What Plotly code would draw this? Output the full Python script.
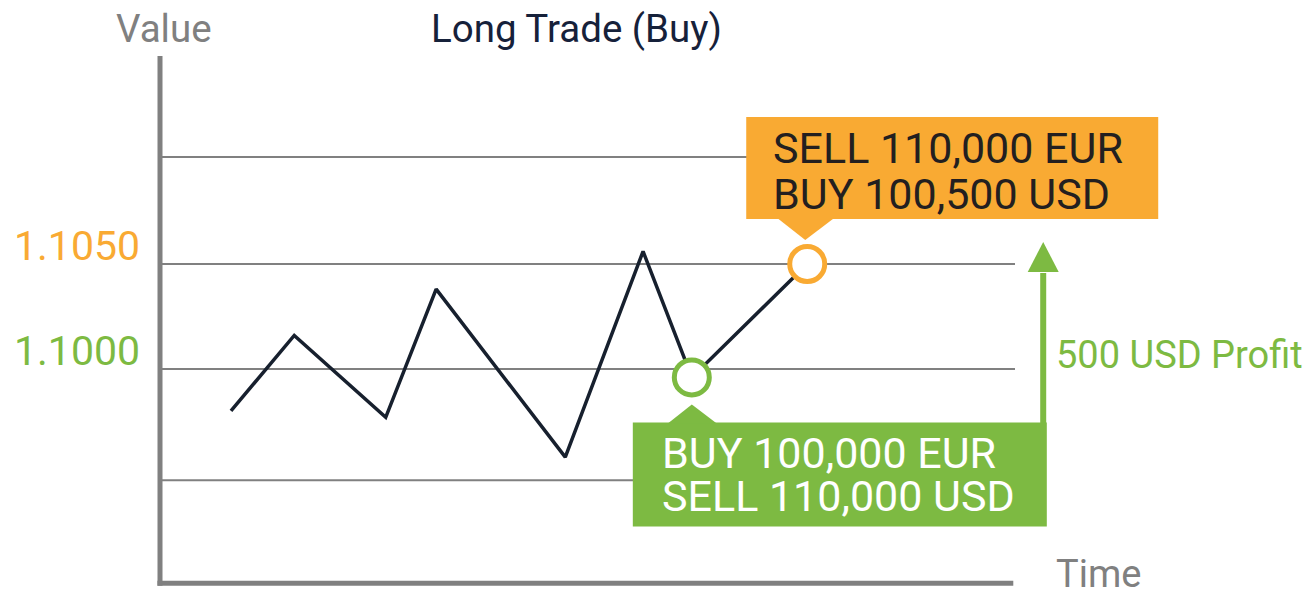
import plotly.graph_objects as go

# price path; time runs 0..100 along the drawn time axis
TIME = [8.3, 15.7, 26.4, 32.3, 47.4, 56.5, 62.2, 75.7]
PRICE = [1.0980, 1.1016, 1.0977, 1.1038, 1.0958, 1.1056, 1.0996, 1.1050]
BUY_IDX = 6
SELL_IDX = 7

GRID_LEVELS = [1.0947, 1.1000, 1.1050, 1.1101]
TICK_VALS = [1.1000, 1.1050]
TICK_TEXT = ["1.1000", "1.1050"]

BUY_LINES = ["BUY 100,000 EUR", "SELL 110,000 USD"]
SELL_LINES = ["SELL 110,000 EUR", "BUY 100,500 USD"]
PROFIT_TEXT = "500 USD Profit"

ORANGE = "#F9AA33"
GREEN = "#7DBA42"
NAVY = "#17202E"
GRAY = "#808080"
FONT = "Roboto"

W, H = 1312, 590
OFF = 8  # page body margin pushes the figure 8px right and down

X_RANGE = [-17.778, 135.673]
Y_RANGE = [1.089095, 1.117190]
AXIS_BOTTOM = 1.0898
AXIS_TOP = 1.1149
TIME_END = 100
ARROW_X = 103.3

buy_t, buy_p = TIME[BUY_IDX], PRICE[BUY_IDX]
sell_t, sell_p = TIME[SELL_IDX], PRICE[SELL_IDX]


def px(x):
    return (x - OFF) / W


def py(y):
    return 1 - (y - OFF) / H


fig = go.Figure()
fig.add_trace(go.Scatter(x=TIME, y=PRICE, mode="lines",
                         line=dict(color=NAVY, width=3.5), hoverinfo="skip"))
fig.add_trace(go.Scatter(
    x=[buy_t, sell_t], y=[buy_p, sell_p], mode="markers", hoverinfo="skip",
    marker=dict(size=35, color="white", line=dict(color=[GREEN, ORANGE], width=5)),
))

shapes = []
for lvl in GRID_LEVELS:
    shapes.append(dict(type="line", x0=0, x1=TIME_END, y0=lvl, y1=lvl, layer="below",
                       line=dict(color=GRAY, width=2)))
# axes
shapes.append(dict(type="line", x0=0, x1=0, y0=AXIS_BOTTOM - 0.00012, y1=AXIS_TOP,
                   layer="below", line=dict(color=GRAY, width=5)))
shapes.append(dict(type="line", x0=-0.3, x1=TIME_END - 0.2, y0=AXIS_BOTTOM, y1=AXIS_BOTTOM,
                   layer="below", line=dict(color=GRAY, width=5)))


def pix(anchor_x, anchor_y, **kw):
    return dict(xref="x", yref="y", xsizemode="pixel", ysizemode="pixel",
                xanchor=anchor_x, yanchor=anchor_y, layer="above", **kw)


# sell callout (orange, above point)
shapes.append(pix(sell_t, sell_p, type="rect", x0=-61, x1=351, y0=45, y1=147,
                  fillcolor=ORANGE, line=dict(width=0)))
shapes.append(pix(sell_t, sell_p, type="path", path="M -30 46 L 27 46 L -2 24 Z",
                  fillcolor=ORANGE, line=dict(width=0)))
# buy callout (green, below point)
shapes.append(pix(buy_t, buy_p, type="rect", x0=-59, x1=355, y0=-45, y1=-149,
                  fillcolor=GREEN, line=dict(width=0)))
shapes.append(pix(buy_t, buy_p, type="path", path="M -24 -46 L 25 -46 L 0 -27 Z",
                  fillcolor=GREEN, line=dict(width=0)))
# profit arrow
shapes.append(pix(ARROW_X, sell_p, type="rect", x0=-3, x1=3, y0=-9, y1=-159,
                  fillcolor=GREEN, line=dict(width=0)))
shapes.append(pix(ARROW_X, sell_p, type="path", path="M -15.5 -8 L 15.5 -8 L 0 22 Z",
                  fillcolor=GREEN, line=dict(width=0)))

ann = []
for val, txt, col in zip(TICK_VALS, TICK_TEXT, [GREEN, ORANGE]):
    ann.append(dict(x=0, y=val, xref="x", yref="y", text=txt, showarrow=False,
                    xanchor="right", yanchor="middle", xshift=-18, yshift=18,
                    font=dict(family=FONT, size=41, color=col)))
for txt, dy in zip(SELL_LINES, [115.5, 70]):
    ann.append(dict(x=sell_t, y=sell_p, xref="x", yref="y", text=txt, showarrow=False,
                    xanchor="left", yanchor="middle", xshift=-36, yshift=dy,
                    font=dict(family=FONT, size=43, color="#231F20")))
for txt, dy in zip(BUY_LINES, [-75.3, -118.7]):
    ann.append(dict(x=buy_t, y=buy_p, xref="x", yref="y", text=txt, showarrow=False,
                    xanchor="left", yanchor="middle", xshift=-32, yshift=dy,
                    font=dict(family=FONT, size=43, color="white")))
ann.append(dict(x=px(163.5), y=py(29), xref="paper", yref="paper", text="Value",
                showarrow=False, xanchor="center", yanchor="middle",
                font=dict(family=FONT, size=38.5, color=GRAY)))
ann.append(dict(x=px(576), y=py(29), xref="paper", yref="paper",
                text="Long Trade (Buy)", showarrow=False, xanchor="center", yanchor="middle",
                font=dict(family=FONT, size=38.5, color="#16213A")))
ann.append(dict(x=px(1054), y=py(573.5), xref="paper", yref="paper", text="Time",
                showarrow=False, xanchor="left", yanchor="middle",
                font=dict(family=FONT, size=38, color=GRAY)))
ann.append(dict(x=px(1054), y=py(355), xref="paper", yref="paper", text=PROFIT_TEXT,
                showarrow=False, xanchor="left", yanchor="middle",
                font=dict(family=FONT, size=38, color=GREEN)))

fig.update_layout(
    width=W, height=H, autosize=False,
    margin=dict(l=0, r=0, t=0, b=0),
    paper_bgcolor="white", plot_bgcolor="white",
    showlegend=False,
    xaxis=dict(range=X_RANGE, visible=False, fixedrange=True),
    yaxis=dict(range=Y_RANGE, visible=False, fixedrange=True),
    shapes=shapes,
    annotations=ann,
)

fig.write_html("out.html", config=dict(displayModeBar=False))
